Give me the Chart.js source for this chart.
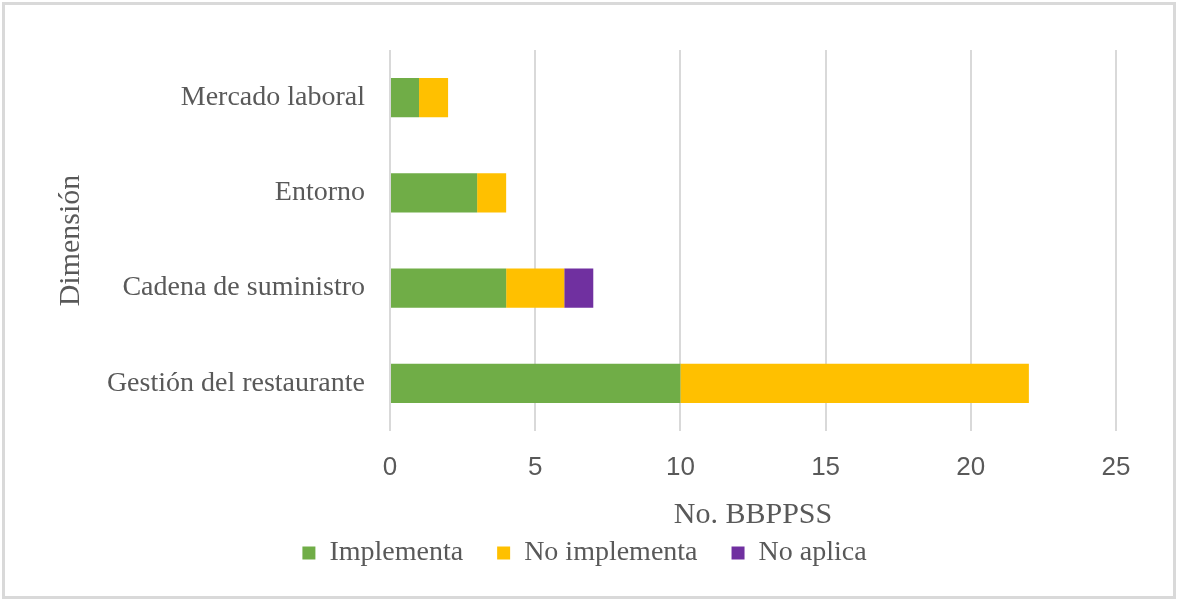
<!DOCTYPE html>
<html>
<head>
<meta charset="utf-8">
<script src="https://cdn.jsdelivr.net/npm/chart.js@4/dist/chart.umd.min.js"></script>
<style>
  body { margin: 0; background: #fff; }
  #wrap { position: absolute; left: 0; top: 0; width: 1177px; height: 600px; }
  #frame { position: absolute; left: 2px; top: 2px; width: 1168px; height: 591px; border: 3px solid #d9d9d9; pointer-events: none; }
</style>
</head>
<body>
<div id="wrap"><canvas id="chart" width="1177" height="600"></canvas></div>
<div id="frame"></div>
<script>
const categories = ["Mercado laboral", "Entorno", "Cadena de suministro", "Gestión del restaurante"];
const implementa = [1, 3, 4, 10];
const noImplementa = [1, 1, 2, 12];
const noAplica = [0, 0, 1, 0];
const xTicks = [0, 5, 10, 15, 20, 25];

const textColor = "#595959";
const serif = "'Liberation Serif', 'Times New Roman', serif";

const ctx = document.getElementById("chart").getContext("2d");
new Chart(ctx, {
  type: "bar",
  data: {
    labels: categories,
    datasets: [
      { label: "Implementa", data: implementa, backgroundColor: "#70ad47" },
      { label: "No implementa", data: noImplementa, backgroundColor: "#ffc000" },
      { label: "No aplica", data: noAplica, backgroundColor: "#7030a0" }
    ]
  },
  options: {
    indexAxis: "y",
    responsive: false,
    animation: false,
    barPercentage: 0.41,
    categoryPercentage: 1,
    layout: { padding: { left: 53, right: 61, top: 50, bottom: 23 } },
    plugins: {
      tooltip: { enabled: false },
      legend: {
        position: "bottom",
        labels: {
          boxWidth: 13,
          boxHeight: 13,
          padding: 34,
          color: textColor,
          font: { family: serif, size: 28 }
        }
      }
    },
    scales: {
      x: {
        stacked: true,
        min: 0,
        max: 25,
        afterBuildTicks: s => { s.ticks = xTicks.map(v => ({ value: v })); },
        grid: { color: "#d9d9d9", lineWidth: 2, drawTicks: false },
        border: { display: false },
        ticks: { color: textColor, padding: 21, font: { family: "'Liberation Sans', Arial, sans-serif", size: 26 } },
        title: { display: true, text: "No. BBPPSS", color: textColor, padding: { top: 0, bottom: -28 }, font: { family: serif, size: 30 } },
        afterFit: s => { s.height = 74; }
      },
      y: {
        stacked: true,
        grid: { display: false, drawTicks: false },
        border: { display: false },
        ticks: { color: textColor, padding: 25, font: { family: serif, size: 28 } },
        title: { display: true, text: "Dimensión", color: textColor, padding: 0, font: { family: serif, size: 30 } },
        afterFit: s => { s.width = 337; }
      }
    }
  }
});
</script>
</body>
</html>
